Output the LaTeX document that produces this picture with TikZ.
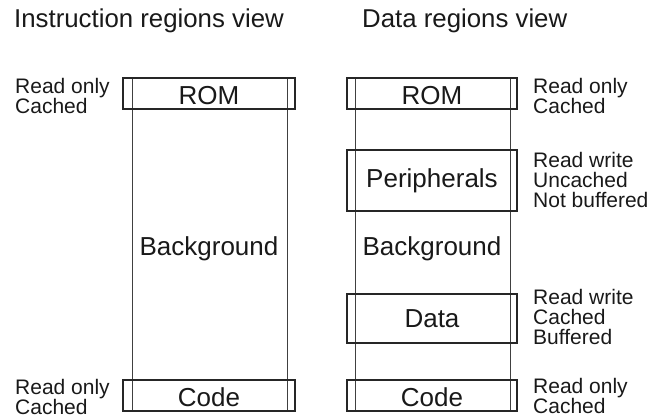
\documentclass[tikz,border=0pt]{standalone}
\usepackage{fontspec}
\setmainfont{Liberation Sans}
\begin{document}
\begin{tikzpicture}[x=1pt,y=-1pt,
  region/.style={draw=black!85, line width=1.6pt},
  bgarea/.style={draw=black!75, line width=0.7pt},
  boxlabel/.style={font=\fontsize{26}{27}\selectfont, inner sep=0pt, anchor=base, text=black!90},
  note/.style={font=\fontsize{21}{20}\selectfont, inner sep=0pt, anchor=north west, align=left, text=black!90},
  title/.style={font=\fontsize{25.8}{27}\selectfont, inner sep=0pt, anchor=base west, text=black!90}]
\useasboundingbox (0,0) rectangle (649,418);

% titles
\node[title] (ttlI) at (14,27) {Instruction regions view};
\node[title] (ttlD) at (362,27) {Data regions view};

% instruction view: background and regions
\draw[bgarea] (132,78) rectangle (287,411);
\draw[region] (123,78) rectangle (295,109);
\draw[region] (123,380) rectangle (295,411);
\node[boxlabel] (iRom) at (209,104) {ROM};
\node[boxlabel] (iBg) at (209,255) {Background};
\node[boxlabel] (iCode) at (209,406) {Code};
\node[note] (iRomN) at (15,77.8) {Read only\\Cached};
\node[note] (iCodeN) at (15,378.8) {Read only\\Cached};

% data view: background and regions
\draw[bgarea] (355,78) rectangle (510,411);
\draw[region] (347,78) rectangle (517,109);
\draw[region] (347,150) rectangle (517,211);
\draw[region] (347,294) rectangle (517,343);
\draw[region] (347,380) rectangle (517,411);
\node[boxlabel] (dRom) at (432,104) {ROM};
\node[boxlabel] (dPer) at (432,187) {Peripherals};
\node[boxlabel] (dBg) at (432,255) {Background};
\node[boxlabel] (dData) at (432,327) {Data};
\node[boxlabel] (dCode) at (432,406) {Code};
\node[note] (dRomN) at (533,77.8) {Read only\\Cached};
\node[note] (dPerN) at (533,151.8) {Read write\\Uncached\\Not buffered};
\node[note] (dDataN) at (533,288.8) {Read write\\Cached\\Buffered};
\node[note] (dCodeN) at (533,377.8) {Read only\\Cached};
\end{tikzpicture}
\end{document}
